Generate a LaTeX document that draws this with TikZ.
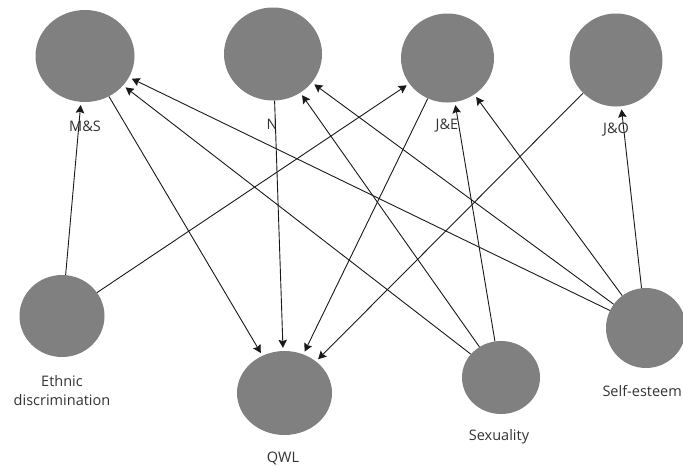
\documentclass[tikz,border=0pt]{standalone}
\usepackage{fontspec}
\setmainfont{Open Sans}
\usetikzlibrary{shapes.geometric,arrows.meta}
\begin{document}
\begin{tikzpicture}[x=1pt,y=-1pt,
  latent/.style={ellipse,fill=black!50,draw=none,inner sep=0pt},
  lbl/.style={text=black!80,font=\fontsize{14.5}{19}\selectfont,inner sep=0pt,align=center},
  path/.style={draw=black!90,line width=0.9pt,
    -{Stealth[length=8pt,width=8.5pt,inset=1.2pt]},shorten >=3pt}]
\useasboundingbox (0,0) rectangle (683,466);
\clip (0,0) rectangle (683,466);

% latent variables
\node[latent,minimum width=99pt,minimum height=92pt] (ms)  at (85,56)    {};
\node[latent,minimum width=98pt,minimum height=93pt] (n)   at (273,54)   {};
\node[latent,minimum width=93pt,minimum height=89pt] (je)  at (447.5,58) {};
\node[latent,minimum width=93pt,minimum height=93pt] (jo)  at (616,60)   {};
\node[latent,minimum width=85pt,minimum height=82pt] (eth) at (62,316)   {};
\node[latent,minimum width=95pt,minimum height=84pt] (qwl) at (284.5,393){};
\node[latent,minimum width=78pt,minimum height=73pt] (sex) at (501,377.5){};
\node[latent,minimum width=80pt,minimum height=80pt] (se)  at (646,328)  {};

% labels
\node[lbl] (lms)  at (85,126)  {M\&S};
\node[lbl] (ln)   at (272,124) {N};
\node[lbl] (lje)  at (447,126) {J\&E};
\node[lbl] (ljo)  at (616,130) {J\&O};
\node[lbl] (leth) at (62,391)  {Ethnic\\discrimination};
\node[lbl] (lqwl) at (283,458) {QWL};
\node[lbl] (lsex) at (499,437) {Sexuality};
\node[lbl,anchor=east] (lse) at (682,391) {Self-esteem};

% paths
\draw[path] (eth) -- (ms);
\draw[path] (eth) -- (je);
\draw[path] (ms)  -- (qwl);
\draw[path] (n)   -- (qwl);
\draw[path] (je)  -- (qwl);
\draw[path] (jo)  -- (qwl);
\draw[path] (sex) -- (ms);
\draw[path] (sex) -- (n);
\draw[path] (sex) -- (je);
\draw[path] (se)  -- (ms);
\draw[path] (se)  -- (n);
\draw[path] (se)  -- (je);
\draw[path] (se)  -- (jo);
\end{tikzpicture}
\end{document}
